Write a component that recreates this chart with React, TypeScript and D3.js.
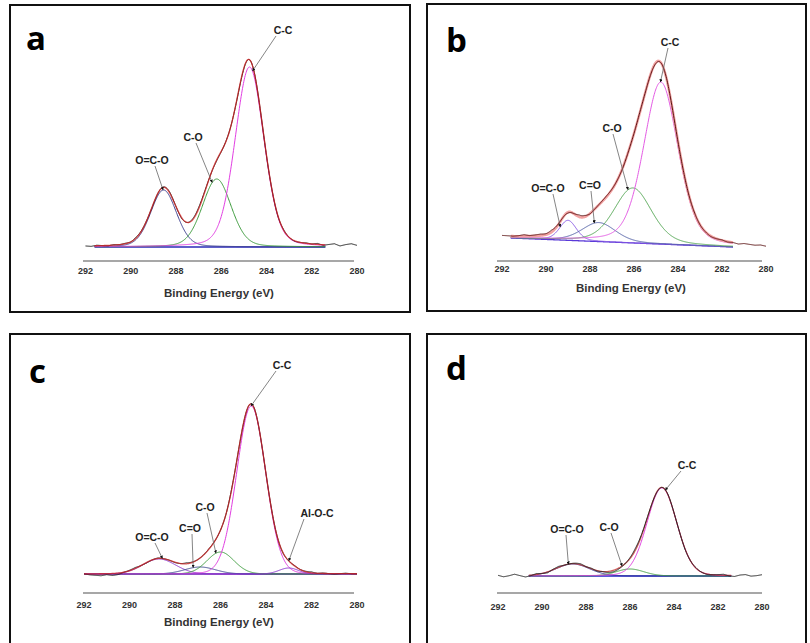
import React from 'react';
import * as d3 from 'd3';

// ---------- data ----------
const tickValues = [292, 290, 288, 286, 284, 282, 280];
const axisTitle = 'Binding Energy (eV)';

// panel a
const namesA = ['O=C-O', 'C-O', 'C-C'];
const centersA = [288.55, 286.2, 284.75];
const heightsA = [57, 68, 180];
const fwhmA = [1.35, 1.5, 1.5];
const backgroundA = [0, 0];
const residualA = [
  0, -0.5, 0.5, 0, -0.5, 0.5, 0,
  0.5, 0, 1, 0.5, 0, -0.5, 0,
  0.5, 1, 0, -1, 0, 1, 1.5,
  1, 0, -1, -0.5, 0.5, 0, -1,
  -1, 0, 0.5, 0, -0.5, 0, -0.5,
  0.5, 0, -0.5, 0, 0.5, 0, 1,
  -0.5, 0.5, 1.5, -0.5, 1, 2, 0.5,
];

// panel b
const namesB = ['O=C-O', 'C=O', 'C-O', 'C-C'];
const centersB = [289.0, 287.6, 286.05, 284.78];
const heightsB = [20, 19, 55, 162];
const fwhmB = [0.9, 1.8, 2.0, 1.85];
const backgroundB = [9, 0];
const residualB = [
  1, 0.5, 0, 0.5, 1.5, 0.5, 1,
  1.5, 1, 2, 1, 0, -1, 0,
  2, 1.5, -0.5, 0, 0.5, 1, 0.5,
  0, -0.5, 0, 0, 0.5, 0, -0.5,
  -1, 0, 0.5, 0, -0.5, 0, 0,
  0.5, 0, 0, -0.5, 0, 0.5, -0.5,
  0, -1, 0, -0.5, -1, -0.5, -1.5,
];

// panel c
const namesC = ['O=C-O', 'C=O', 'C-O', 'C-C', 'Al-O-C'];
const centersC = [288.7, 286.9, 286.0, 284.65, 283.0];
const heightsC = [15, 7, 22, 168, 6];
const fwhmC = [1.7, 1.6, 1.4, 1.5, 1.0];
const backgroundC = [0, 0];
const residualC = [
  0, -1, -1.5, -2, -1, -2, -1.5,
  0, 0.5, 1, 0, -0.5, 0, 0.5,
  0, 0, -0.5, 0, 1, 0.5, 0,
  0, 0.5, 0, 0, 0, 1, 0,
  -0.5, 0, 0.5, 0, 0, 0.5, 0,
  -0.5, 0, 0.5, 0, 0.5, 1, 0,
  0.5, 0, -0.5, 0, 0.5, 0, 0,
];

// panel d
const namesD = ['O=C-O', 'C-O', 'C-C'];
const centersD = [288.6, 286.0, 284.55];
const heightsD = [12, 7, 88];
const fwhmD = [1.8, 1.5, 1.6];
const backgroundD = [0, 0];
const residualD = [
  0.5, -1, 0, 1.5, 0, -1.5, -0.5,
  1, 0, -1, 0.5, 1, 0, 0,
  0.5, 1, 0, 0.5, -0.5, 0, -1,
  -1.5, -1, 0, 1, 2, 1.5, 1,
  0, -0.5, 0, 0.5, 0, 0, -0.5,
  0, 0.5, 0, -0.5, 0, 0.5, 1,
  -0.5, -1, 0.5, 1, -0.5, 0, 1,
];

// ---------- layout / styling ----------
type Label = { i: number; tx: number; ty: number; sx: number; sy: number; tipE: number; on: 'comp' | 'env' };

type Panel = {
  letter: string;
  names: string[]; centers: number[]; heights: number[]; fwhm: number[];
  bg: number[]; residual: number[]; mix: number; fit: [number, number];
  box: [number, number, number, number];
  x0: number; x1: number; baseY: number; axisY: number; axisLine: [number, number];
  tickY: number; title: boolean; titleX: number; titleY: number; letterX: number; letterY: number;
  dataColor: string; envColor: string; envWidth: number; envOpacity: number; dataOnTop: boolean;
  bgColor: string; compColors: string[];
  labels: Label[];
};

const panels: Panel[] = [
  {
    letter: 'a', names: namesA, centers: centersA, heights: heightsA, fwhm: fwhmA,
    bg: backgroundA, residual: residualA, mix: 0.2, fit: [291.6, 281.4],
    box: [10, 5, 400, 307], x0: 85.5, x1: 357, baseY: 247, axisY: 261, axisLine: [83, 354],
    tickY: 273.5, title: true, titleX: 219, titleY: 297, letterX: 26, letterY: 50,
    dataColor: '#1a1a1a', envColor: '#d42020', envWidth: 1.3, envOpacity: 0.75, dataOnTop: false,
    bgColor: '#2a2ab8',
    compColors: ['#3d3f8f', '#3a9a3a', '#e23ee2'],
    labels: [
      { i: 2, tx: 283, ty: 30, sx: 276, sy: 36, tipE: 284.62, on: 'comp' },
      { i: 1, tx: 193, ty: 137, sx: 196, sy: 143, tipE: 286.4, on: 'comp' },
      { i: 0, tx: 152, ty: 160, sx: 155, sy: 166, tipE: 288.57, on: 'comp' },
    ],
  },
  {
    letter: 'b', names: namesB, centers: centersB, heights: heightsB, fwhm: fwhmB,
    bg: backgroundB, residual: residualB, mix: 0.3, fit: [291.6, 281.5],
    box: [427, 4, 379, 307], x0: 502, x1: 766, baseY: 247, axisY: 261, axisLine: [497, 762],
    tickY: 271.5, title: true, titleX: 631, titleY: 292, letterX: 446, letterY: 52,
    dataColor: '#5c1414', envColor: '#f2a3a3', envWidth: 2.6, envOpacity: 1, dataOnTop: true,
    bgColor: '#5a3ad8',
    compColors: ['#8a5ae6', '#5563a8', '#55a855', '#e45ae4'],
    labels: [
      { i: 3, tx: 670, ty: 42, sx: 668, sy: 48, tipE: 284.8, on: 'comp' },
      { i: 2, tx: 612, ty: 128, sx: 613, sy: 134, tipE: 286.27, on: 'comp' },
      { i: 1, tx: 590, ty: 185, sx: 591, sy: 191, tipE: 287.8, on: 'comp' },
      { i: 0, tx: 548, ty: 188, sx: 553, sy: 194, tipE: 289.35, on: 'comp' },
    ],
  },
  {
    letter: 'c', names: namesC, centers: centersC, heights: heightsC, fwhm: fwhmC,
    bg: backgroundC, residual: residualC, mix: 0.05, fit: [292, 280],
    box: [10, 334, 400, 330], x0: 84, x1: 357, baseY: 574, axisY: 593, axisLine: [83, 354],
    tickY: 607.5, title: true, titleX: 219, titleY: 626, letterX: 29, letterY: 383,
    dataColor: '#222222', envColor: '#cc2222', envWidth: 1.3, envOpacity: 0.75, dataOnTop: false,
    bgColor: '#7a35b0',
    compColors: ['#8c36d0', '#3f4a90', '#3d9d3d', '#e03ce0', '#8c36d0'],
    labels: [
      { i: 3, tx: 282, ty: 365, sx: 276, sy: 371, tipE: 284.66, on: 'comp' },
      { i: 2, tx: 205, ty: 507, sx: 207, sy: 513, tipE: 286.2, on: 'comp' },
      { i: 1, tx: 190, ty: 528, sx: 192, sy: 534, tipE: 287.2, on: 'comp' },
      { i: 0, tx: 152, ty: 537, sx: 155, sy: 543, tipE: 288.55, on: 'env' },
      { i: 4, tx: 317, ty: 513, sx: 304, sy: 519, tipE: 283.0, on: 'env' },
    ],
  },
  {
    letter: 'd', names: namesD, centers: centersD, heights: heightsD, fwhm: fwhmD,
    bg: backgroundD, residual: residualD, mix: 0.1, fit: [290.6, 281.4],
    box: [427, 334, 379, 330], x0: 498, x1: 762, baseY: 576, axisY: 593, axisLine: [497, 762],
    tickY: 610, title: false, titleX: 630, titleY: 630, letterX: 446, letterY: 380,
    dataColor: '#222222', envColor: '#c83232', envWidth: 1.2, envOpacity: 0.8, dataOnTop: true,
    bgColor: '#2424c8',
    compColors: ['#2e3590', '#44a044', '#e040e0'],
    labels: [
      { i: 2, tx: 687, ty: 465, sx: 681, sy: 471, tipE: 284.4, on: 'comp' },
      { i: 1, tx: 609, ty: 527, sx: 611, sy: 533, tipE: 286.36, on: 'env' },
      { i: 0, tx: 567, ty: 529, sx: 566, sy: 535, tipE: 288.8, on: 'comp' },
    ],
  },
];

const FONT = '"Liberation Sans", Arial, sans-serif';

function pseudoVoigt(E: number, c: number, h: number, w: number, m: number) {
  const t = (E - c) / w;
  return h * ((1 - m) * Math.exp(-4 * Math.LN2 * t * t) + m / (1 + 4 * t * t));
}

function PanelView({ p }: { p: Panel }) {
  const x = d3.scaleLinear().domain([292, 280]).range([p.x0, p.x1]);
  const y = d3.scaleLinear().domain([0, 200]).range([p.baseY, p.baseY - 200]);
  const [fitHi, fitLo] = p.fit;
  const bg = (E: number) =>
    E >= fitHi ? p.bg[0] : E <= fitLo ? p.bg[1] : p.bg[1] + ((p.bg[0] - p.bg[1]) * (E - fitLo)) / (fitHi - fitLo);
  const comp = (i: number, E: number) => pseudoVoigt(E, p.centers[i], p.heights[i], p.fwhm[i], p.mix);
  const env = (E: number) => bg(E) + d3.sum(p.centers.map((_, i) => comp(i, E)));

  const fitGrid = d3.range(fitHi, fitLo - 1e-9, -0.02);
  const fullGrid = d3.range(292, 280 - 1e-9, -0.02);
  const n = p.residual.length;
  const resGrid = p.residual.map((_, i) => 292 - (i * 12) / (n - 1));
  const res = d3.scaleLinear().domain(resGrid).range(p.residual);

  const line = d3
    .line<[number, number]>()
    .x((d) => x(d[0]))
    .y((d) => y(d[1]));

  const bgPath = line(fitGrid.map((E) => [E, bg(E)]));
  const compPaths = p.centers.map((_, i) => line(fitGrid.map((E) => [E, bg(E) + comp(i, E)])));
  const envPath = line(fitGrid.map((E) => [E, env(E)]));
  const dataPath = line(fullGrid.map((E) => [E, env(E) + res(E)]));

  const [bx, by, bw, bh] = p.box;

  const dataEl = <path key="data" d={dataPath || ''} fill="none" stroke={p.dataColor} strokeWidth={1} />;
  const envEl = (
    <path key="env" d={envPath || ''} fill="none" stroke={p.envColor} strokeWidth={p.envWidth} strokeOpacity={p.envOpacity} />
  );

  return (
    <g>
      <rect x={bx} y={by} width={bw} height={bh} fill="white" stroke="#111" strokeWidth={2} />
      <text
        x={p.letterX}
        y={p.letterY}
        fontFamily='"Open Sans", "Noto Sans", sans-serif'
        fontWeight={700}
        fontSize={33}
        fill="#000"
      >
        {p.letter}
      </text>
      <path d={bgPath || ''} fill="none" stroke={p.bgColor} strokeWidth={1.3} />
      {compPaths.map((d, i) => (
        <path key={i} d={d || ''} fill="none" stroke={p.compColors[i]} strokeWidth={1} />
      ))}
      {p.dataOnTop ? [envEl, dataEl] : [dataEl, envEl]}
      {/* axis */}
      <line x1={p.axisLine[0]} x2={p.axisLine[1]} y1={p.axisY} y2={p.axisY} stroke="#8a8a8a" strokeWidth={1.6} />
      {tickValues.map((t) => (
        <text
          key={t}
          x={x(t)}
          y={p.tickY}
          textAnchor="middle"
          fontFamily={FONT}
          fontWeight={700}
          fontSize={9}
          fill="#333"
        >
          {t}
        </text>
      ))}
      {p.title && (
        <text x={p.titleX} y={p.titleY} textAnchor="middle" fontFamily={FONT} fontWeight={700} fontSize={11.5} fill="#333">
          {axisTitle}
        </text>
      )}
      {/* peak labels */}
      {p.labels.map((l, k) => {
        const tipY = l.on === 'comp' ? y(bg(l.tipE) + comp(l.i, l.tipE)) : y(env(l.tipE));
        const tipX = x(l.tipE);
        return (
          <g key={k}>
            <line x1={l.sx} y1={l.sy} x2={tipX} y2={tipY} stroke="#666" strokeWidth={0.8} markerEnd="url(#arrowHead)" />
            <text
              x={l.tx}
              y={l.ty + 3.8}
              textAnchor="middle"
              fontFamily={FONT}
              fontWeight={700}
              fontSize={10.5}
              fill="#222"
            >
              {p.names[l.i]}
            </text>
          </g>
        );
      })}
    </g>
  );
}

export default function App() {
  return (
    <svg
      width={810}
      height={643}
      viewBox="0 0 810 643"
      style={{ position: 'absolute', left: 0, top: 0, background: 'white' }}
    >
      <defs>
        <marker id="arrowHead" viewBox="0 0 6 6" refX={5.5} refY={3} markerWidth={4} markerHeight={4} orient="auto">
          <path d="M0,0L6,3L0,6z" fill="#111" />
        </marker>
      </defs>
      <rect x={0} y={0} width={810} height={643} fill="white" />
      {panels.map((p) => (
        <PanelView key={p.letter} p={p} />
      ))}
    </svg>
  );
}
